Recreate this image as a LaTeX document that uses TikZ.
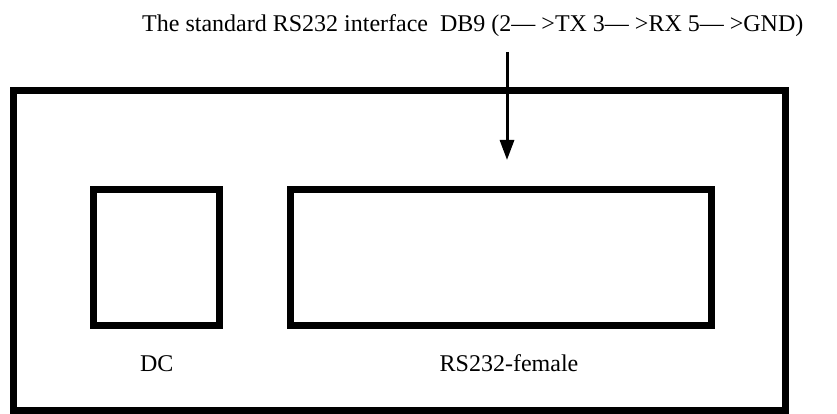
\documentclass[tikz,border=0pt]{standalone}
\usepackage{fontspec}
\setmainfont{Liberation Serif}
\usetikzlibrary{arrows.meta}
\newcommand{\pinto}{—\kern6pt>}

\begin{document}
\begin{tikzpicture}[x=1pt,y=-1pt,
    port/.style={draw,line width=7pt,minimum width=#1,minimum height=136.3pt,inner sep=0pt},
    lbl/.style={inner sep=0pt,font=\fontsize{24}{28}\selectfont}]
        \useasboundingbox (0,0) rectangle (837,414);
        % heading
        \node[lbl,anchor=base west] (title) at (142,31.7)
          {The standard RS232 interface\ \ DB9 (2\pinto TX 3\pinto RX 5\pinto GND)};
        % housing
        \draw[line width=7pt] (13.7,91) rectangle (785.5,410);
        % sockets
        \node[port=126pt] (dc) at (156.7,257.2) {};
        \node[port=421.5pt] (rs) at (501,257.2) {};
        \node[lbl,anchor=base] (dclbl) at (156.7,371.7) {DC};
        \node[lbl,anchor=base] (rslbl) at (509,371.7) {RS232-female};
        % pointer
        \coordinate (feed) at (507,52);
        \coordinate (ptr) at (507,160);
        \draw[-{Triangle[length=20pt,width=14pt]},line width=3pt] (feed) -- (ptr);
\end{tikzpicture}
\end{document}
